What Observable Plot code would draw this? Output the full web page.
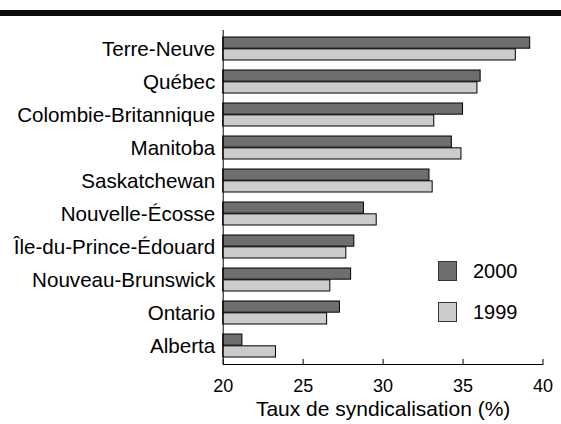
<!DOCTYPE html>
<html>
<head>
<meta charset="utf-8">
<script src="https://cdn.jsdelivr.net/npm/d3@7"></script>
<script src="https://cdn.jsdelivr.net/npm/@observablehq/plot@0.6"></script>
<style>
  html, body { margin: 0; padding: 0; background: #fff; }
  #wrap { position: relative; width: 561px; height: 424px; overflow: hidden; font-family: "Liberation Sans", Arial, sans-serif; }
  #topbar { position: absolute; left: 0; top: 10px; width: 561px; height: 6px; background: #0a0a0a; }
  #legend { position: absolute; left: 438px; top: 261px; font-size: 20px; color: #000; }
  .item { position: relative; height: 41px; }
  .sw { position: absolute; left: 0; top: 0; width: 17px; height: 18px; border: 1px solid #333; }
  .lab { position: absolute; left: 35px; top: -1px; line-height: 22px; }
</style>
</head>
<body>
<div id="wrap">
  <div id="chart"></div>
  <div id="topbar"></div>
  <div id="legend"></div>
</div>
<script>
const provinces = ["Terre-Neuve","Québec","Colombie-Britannique","Manitoba","Saskatchewan","Nouvelle-Écosse","Île-du-Prince-Édouard","Nouveau-Brunswick","Ontario","Alberta"];
const v2000 = [39.2, 36.1, 35.0, 34.3, 32.9, 28.8, 28.2, 28.0, 27.3, 21.2];
const v1999 = [38.3, 35.9, 33.2, 34.9, 33.1, 29.6, 27.7, 26.7, 26.5, 23.3];
const years = ["2000", "1999"];
const colors = ["#6e6e6e", "#cccccc"];
const xTicks = [20, 25, 30, 35, 40];
const xTitle = "Taux de syndicalisation (%)";

const d2000 = provinces.map((p, i) => ({province: p, value: v2000[i]}));
const d1999 = provinces.map((p, i) => ({province: p, value: v1999[i]}));

const W = 561, H = 424, mT = 30, mB = 60, mL = 222.7, mR = 18.5;
const plotH = H - mT - mB;
const pIn = 0.293, pOut = 0.14;
const step = plotH / (provinces.length - pIn + 2 * pOut);
const half = step * (1 - pIn) / 2;

const chart = Plot.plot({
  width: W, height: H,
  marginTop: mT, marginBottom: mB, marginLeft: mL, marginRight: mR,
  style: {fontFamily: "'Liberation Sans', Arial, sans-serif", color: "#000", background: "transparent"},
  x: {domain: [20, 40]},
  y: {domain: provinces, paddingInner: pIn, paddingOuter: pOut, axis: null},
  marks: [
    Plot.barX(d2000, {y: "province", x1: 20, x2: "value", fill: colors[0], stroke: "#000", strokeWidth: 1, insetBottom: half}),
    Plot.barX(d1999, {y: "province", x1: 20, x2: "value", fill: colors[1], stroke: "#000", strokeWidth: 1, insetTop: half}),
    Plot.ruleX([20], {stroke: "#000", strokeWidth: 1}),
    Plot.frame({anchor: "bottom", stroke: "#000", strokeWidth: 1}),
    Plot.ruleX(xTicks, {stroke: "#000", strokeWidth: 1, insetTop: plotH - 5}),
    Plot.axisY({tickSize: 0, tickPadding: 8, fontSize: 20.6, label: null}),
    Plot.axisX({ticks: xTicks, tickSize: 0, tickPadding: 15, fontSize: 18, label: null}),
    Plot.text([xTitle], {text: d => d, frameAnchor: "bottom", dy: 51, fontSize: 21, fill: "#000"})
  ]
});
document.getElementById("chart").appendChild(chart);

const legend = document.getElementById("legend");
years.forEach((y, i) => {
  const it = document.createElement("div");
  it.className = "item";
  const sw = document.createElement("div");
  sw.className = "sw";
  sw.style.background = colors[i];
  const lb = document.createElement("div");
  lb.className = "lab";
  lb.textContent = y;
  it.appendChild(sw); it.appendChild(lb);
  legend.appendChild(it);
});
</script>
</body>
</html>
